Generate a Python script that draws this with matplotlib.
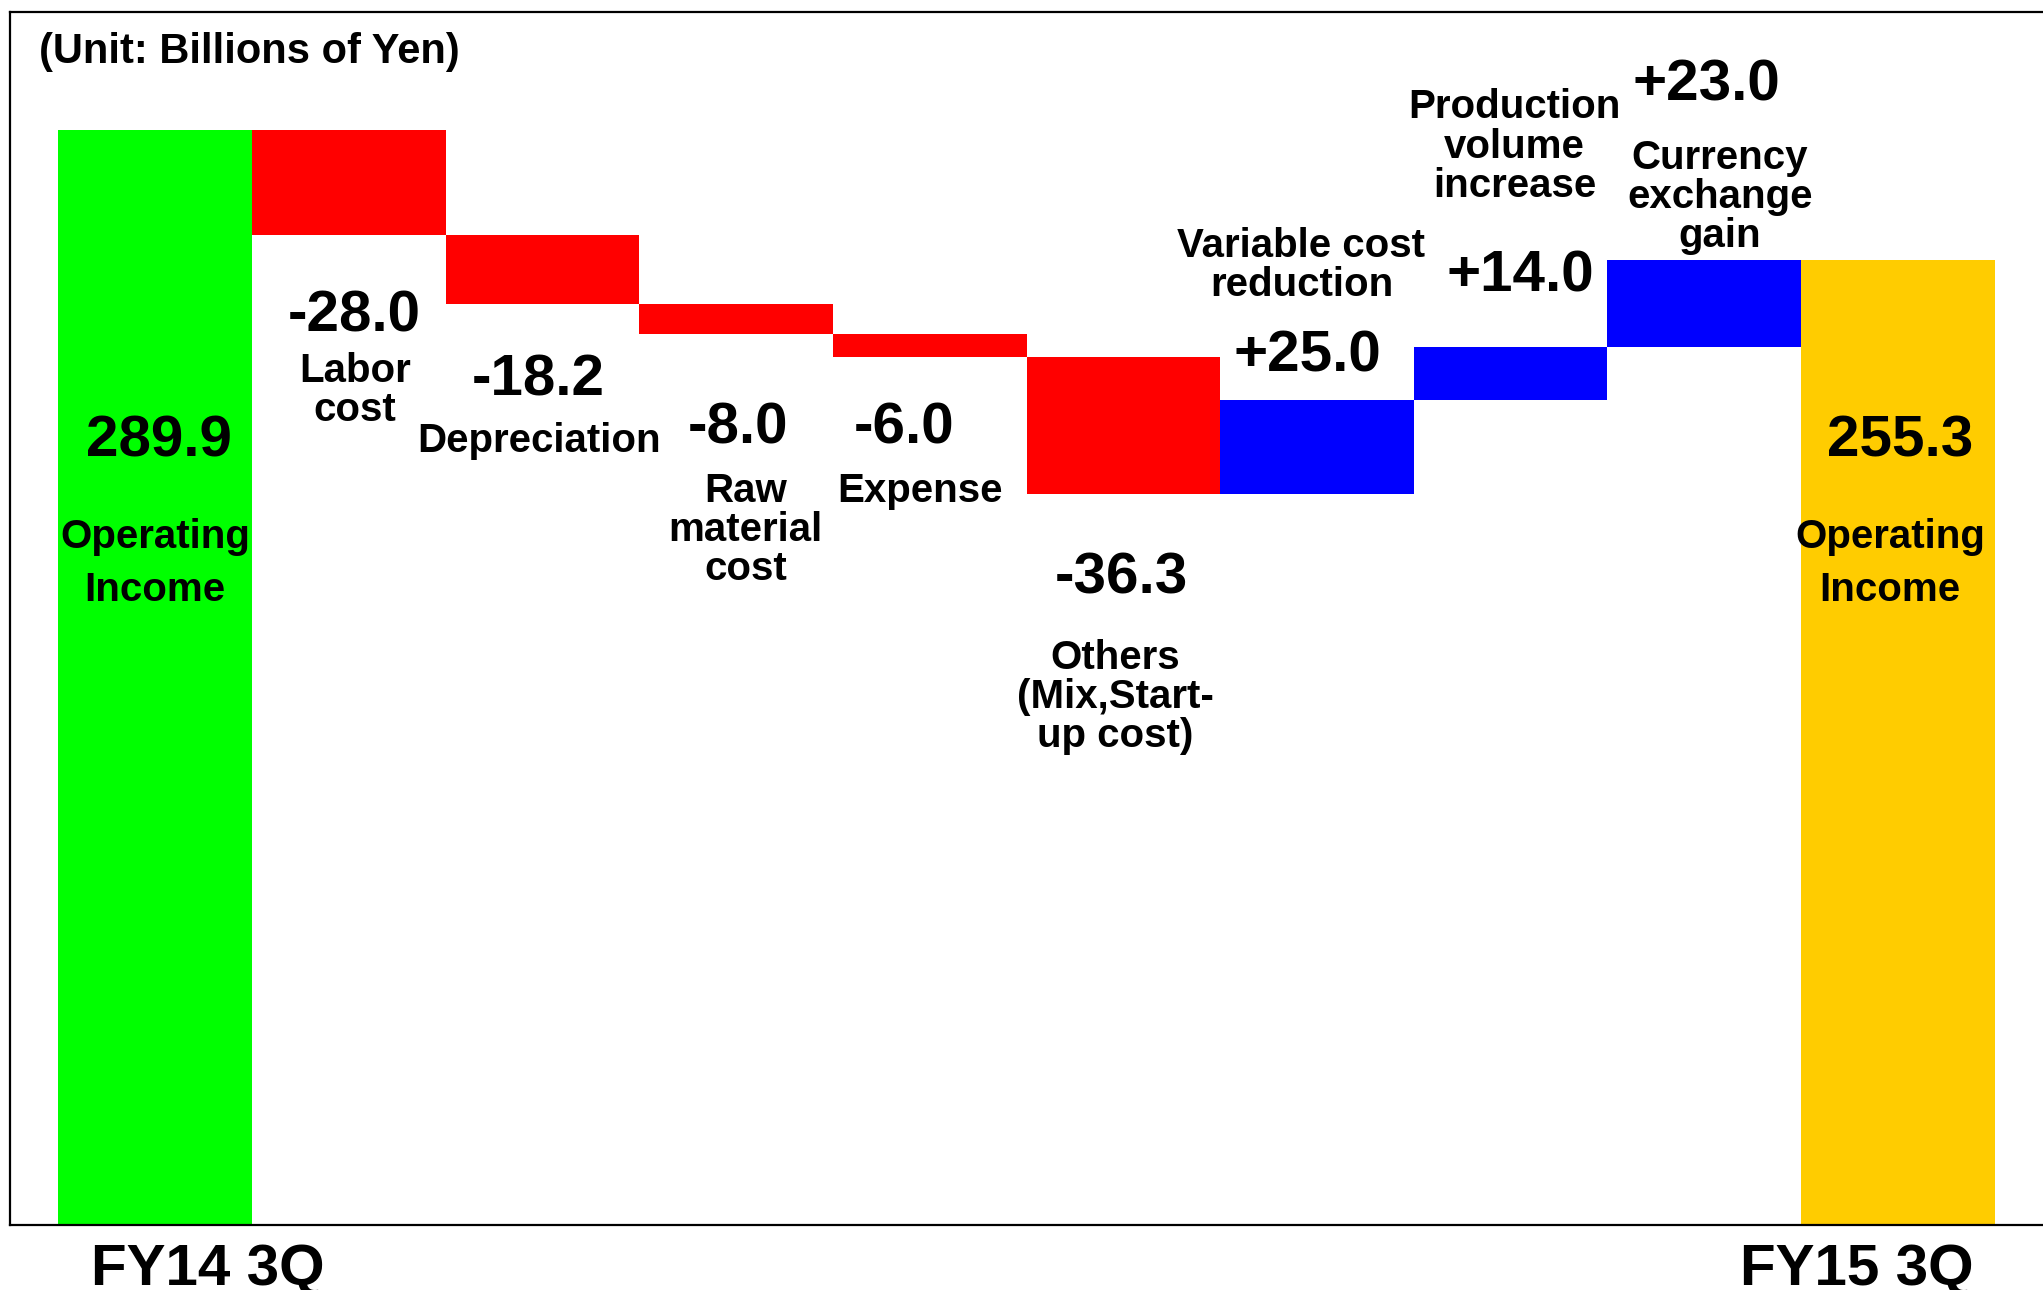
import numpy as np
import matplotlib.pyplot as plt

plt.rcParams['font.family'] = ['Liberation Sans', 'DejaVu Sans']
plt.rcParams['font.weight'] = 'bold'

# operating income bridge, billions of yen
start_value = 289.9
end_value = 255.3
change_names = ["Labor\ncost", "Depreciation", "Raw\nmaterial\ncost", "Expense",
                "Others\n(Mix,Start-\nup cost)", "Variable cost\nreduction",
                "Production\nvolume\nincrease", "Currency\nexchange\ngain"]
change_values = [-28.0, -18.2, -8.0, -6.0, -36.3, 25.0, 14.0, 23.0]
period_labels = ["FY14 3Q", "FY15 3Q"]

# running level before each step
levels = start_value + np.concatenate([[0], np.cumsum(change_values)[:-1]])
bottoms = [0] + [lv + min(v, 0) for lv, v in zip(levels, change_values)] + [0]
heights = [start_value] + [abs(v) for v in change_values] + [end_value]
colors = ['#00FF00'] + ['#FF0000' if v < 0 else '#0000FF' for v in change_values] + ['#FFCC00']

fig = plt.figure(figsize=(20.43, 12.90), dpi=100)
ax = fig.add_axes([0.0049, 0.0504, 0.9951, 0.9403])
x = np.arange(len(heights))
ax.bar(x, heights, bottom=bottoms, width=1.0, color=colors, linewidth=0, zorder=1)

ax.set_xlim(-0.75, 9.75)
ax.set_ylim(0, 321)
ax.set_xticks([])
ax.set_yticks([])
ax.spines['right'].set_visible(False)
for side in ['top', 'left', 'bottom']:
    ax.spines[side].set_linewidth(1.6)

num_size = 42
lab_size = 29

def num(xp, yp, s):
    ax.text(xp, yp, s, ha='center', va='center', fontsize=num_size, fontweight='bold')

def lab(xp, yp, s, ls=1.035):
    ax.text(xp, yp, s, ha='center', va='center', fontsize=lab_size,
            fontweight='bold', linespacing=ls)

# totals
num(0.02, 207.4, f"{start_value:.1f}")
lab(0.0, 175.0, "Operating\nIncome", ls=1.52)
num(9.01, 207.4, f"{end_value:.1f}")
lab(8.96, 175.0, "Operating\nIncome", ls=1.52)

# step labels
num_pos = [(1.03, 240.5), (1.98, 223.6), (3.01, 210.8), (3.87, 210.8),
           (4.99, 171.2), (5.95, 229.8), (7.05, 250.9), (8.01, 301.6)]
lab_pos = [(1.03, 220.9), (1.98, 207.4), (3.05, 184.0), (3.95, 194.3),
           (4.96, 139.8), (5.92, 254.0), (7.02, 285.4), (8.08, 272.0)]
for v, name, (nx, ny), (lx, ly) in zip(change_values, change_names, num_pos, lab_pos):
    num(nx, ny, f"{v:+.1f}" if v > 0 else f"{v:.1f}")
    lab(lx, ly, name)

fig.text(0.019, 0.960, "(Unit: Billions of Yen)", ha='left', va='center',
         fontsize=30, fontweight='bold')

for xp, s in zip([0.27, 8.79], period_labels):
    ax.text(xp, -0.0375, s, transform=ax.get_xaxis_transform(), ha='center',
            va='center', fontsize=num_size, fontweight='bold', clip_on=False)

fig.savefig("out.png", dpi=100)
